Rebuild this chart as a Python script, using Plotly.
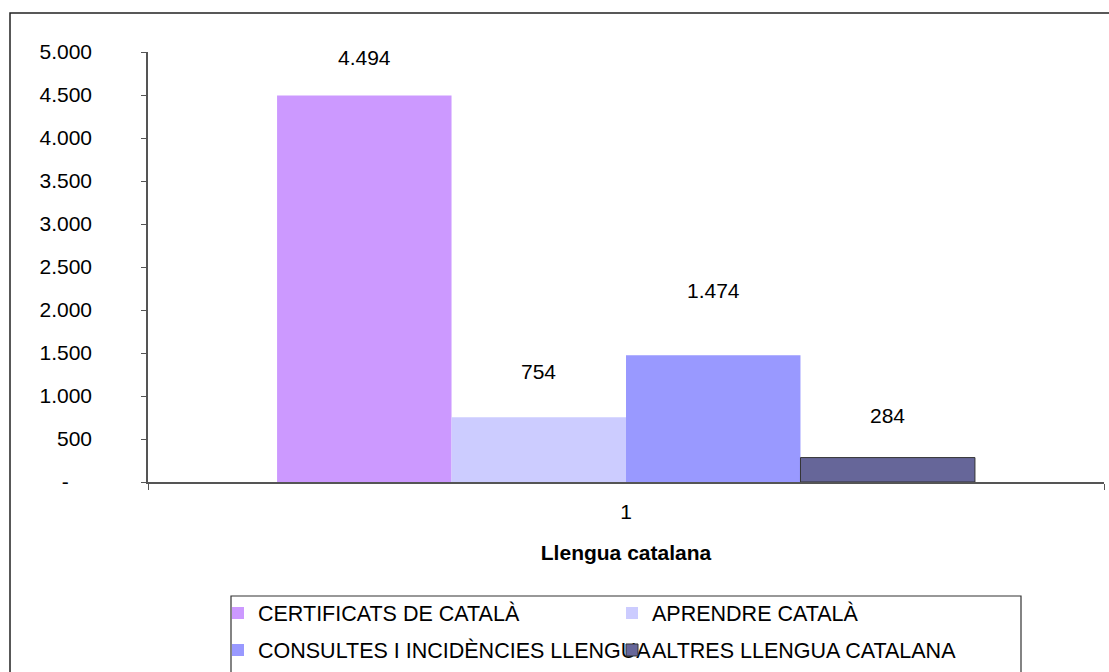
import plotly.graph_objects as go

categories = ["1"]
series_names = ["CERTIFICATS DE CATALÀ", "APRENDRE CATALÀ",
                "CONSULTES I INCIDÈNCIES LLENGUA", "ALTRES LLENGUA CATALANA"]
series_values = [4494, 754, 1474, 284]
value_labels = ["4.494", "754", "1.474", "284"]
colors = ["#CC99FF", "#CCCCFF", "#9999FF", "#666699"]
y_tickvals = [0, 500, 1000, 1500, 2000, 2500, 3000, 3500, 4000, 4500, 5000]
y_ticktext = ["-\u00a0\u00a0\u00a0\u00a0", "500", "1.000", "1.500", "2.000", "2.500",
              "3.000", "3.500", "4.000", "4.500", "5.000"]
x_title = "Llengua catalana"

# layout geometry (pixels)
W, H = 1109, 672
ML, MR, MT, MB = 148, 5, 52, 190
PW, PH = W - ML - MR, H - MT - MB
BARGAP = 0.27
label_shift = [38, 46, 65, 42]

FONT = "Liberation Sans, Arial, sans-serif"
FS = 21
FS_LEG = 21.5

def px_x(px):
    return (px - ML) / PW

def px_y(py):
    return (H - MB - py) / PH

fig = go.Figure()
legends = ["legend", "legend", "legend2", "legend2"]
for i, (name, val, col) in enumerate(zip(series_names, series_values, colors)):
    fig.add_trace(go.Bar(
        x=categories, y=[val], name=name,
        marker=dict(color=col, line=dict(width=1 if i == 3 else 0, color="#333333")),
        legend=legends[i], hoverinfo="name+y",
    ))

bar_w = PW * (1 - BARGAP) / len(series_values)
annotations = []
for i, (val, lab) in enumerate(zip(series_values, value_labels)):
    annotations.append(dict(
        x=0, y=val, xref="x", yref="y", text=lab, showarrow=False,
        xshift=(i - (len(series_values) - 1) / 2) * bar_w, yshift=label_shift[i],
        font=dict(family=FONT, size=FS, color="black"),
    ))

shapes = [
    # outer chart frame
    dict(type="rect", xref="paper", yref="paper", x0=px_x(10), x1=px_x(1130),
         y0=px_y(13), y1=px_y(720), line=dict(color="#222222", width=1.5), layer="above"),
    # legend frame
    dict(type="rect", xref="paper", yref="paper", x0=px_x(231), x1=px_x(1021),
         y0=px_y(596), y1=px_y(720), line=dict(color="#333333", width=1.2), layer="above"),
]

fig.update_layout(
    width=W, height=H,
    margin=dict(l=ML, r=MR, t=MT, b=MB, autoexpand=False),
    paper_bgcolor="white", plot_bgcolor="white",
    barmode="group", bargap=BARGAP, bargroupgap=0,
    font=dict(family=FONT, size=FS, color="black"),
    showlegend=True,
    legend=dict(orientation="h", x=px_x(218), xanchor="left", y=px_y(613), yanchor="middle",
                entrywidth=349, entrywidthmode="pixels", bgcolor="rgba(0,0,0,0)",
                borderwidth=0, font=dict(family=FONT, size=FS_LEG, color="black"),
                traceorder="normal"),
    legend2=dict(orientation="h", x=px_x(218), xanchor="left", y=px_y(650), yanchor="middle",
                 entrywidth=349, entrywidthmode="pixels", bgcolor="rgba(0,0,0,0)",
                 borderwidth=0, font=dict(family=FONT, size=FS_LEG, color="black"),
                 traceorder="normal"),
    annotations=annotations,
    shapes=shapes,
)

fig.update_xaxes(
    type="category", range=[-0.5, 0.5], showline=True, linecolor="#555555", linewidth=1.5,
    ticks="outside", tickson="boundaries", ticklen=6, tickcolor="#555555",
    ticklabelstandoff=10, showgrid=False, zeroline=False, automargin=False,
    tickfont=dict(family=FONT, size=FS, color="black"),
    title=dict(text="<b>" + x_title + "</b>", standoff=23,
               font=dict(family=FONT, size=FS, color="black")),
)
fig.update_yaxes(
    range=[0, 5000], tickmode="array", tickvals=y_tickvals, ticktext=y_ticktext,
    showline=True, linecolor="#555555", linewidth=1.5,
    ticks="outside", ticklen=5, tickcolor="#555555",
    ticklabelstandoff=45, showgrid=False, zeroline=False, automargin=False,
    tickfont=dict(family=FONT, size=FS, color="black"),
)

fig.write_html("out.html", config={"displayModeBar": False},
               post_script="document.body.style.margin='0';document.body.style.overflow='hidden';")
